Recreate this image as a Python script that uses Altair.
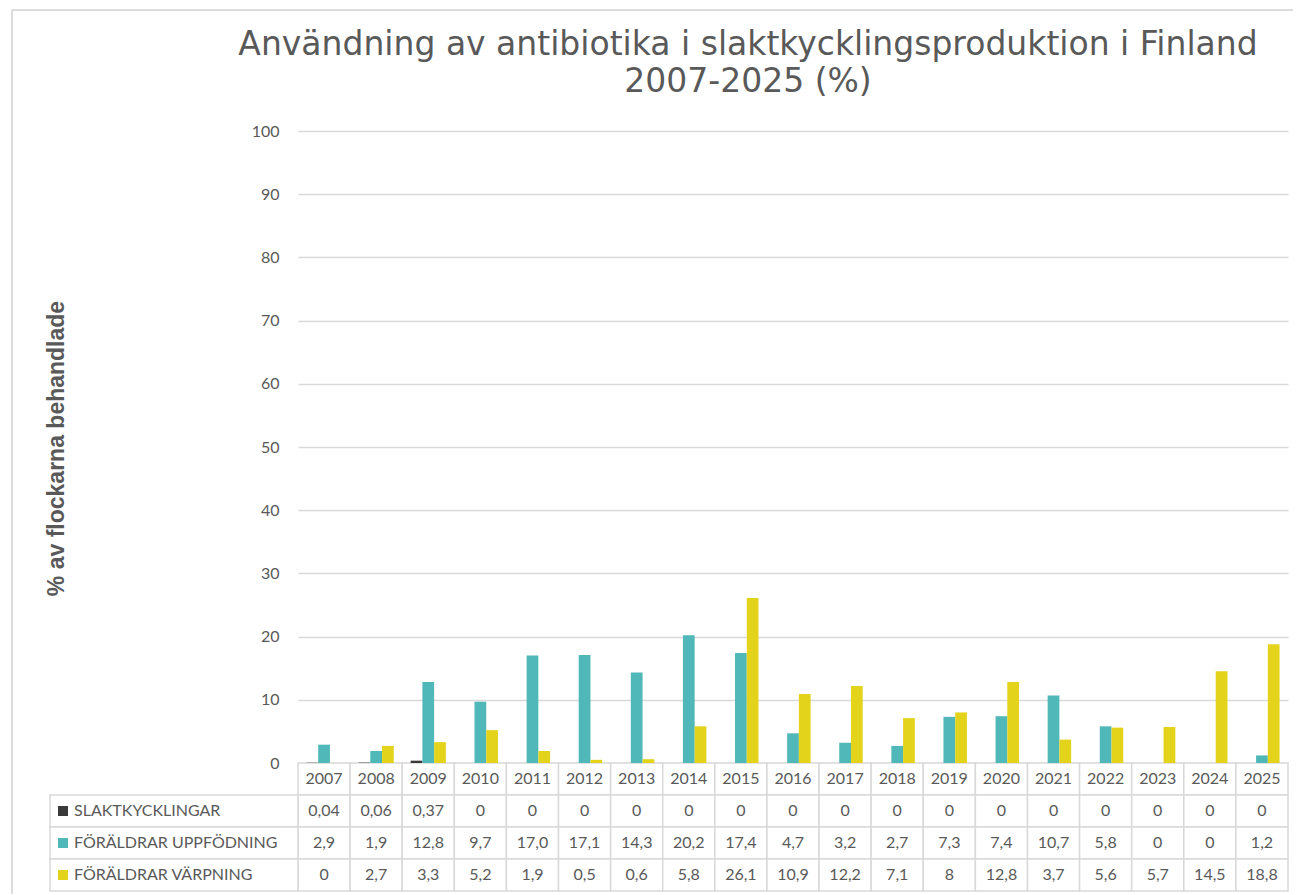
import altair as alt
import pandas as pd

# ---------------- data ----------------
years = ["2007", "2008", "2009", "2010", "2011", "2012", "2013", "2014", "2015", "2016",
         "2017", "2018", "2019", "2020", "2021", "2022", "2023", "2024", "2025"]
series = ["SLAKTKYCKLINGAR", "FÖRÄLDRAR UPPFÖDNING", "FÖRÄLDRAR VÄRPNING"]

slakt = [0.04, 0.06, 0.37, 0, 0, 0, 0, 0, 0, 0, 0, 0, 0, 0, 0, 0, 0, 0, 0]
uppfodning = [2.9, 1.9, 12.8, 9.7, 17.0, 17.1, 14.3, 20.2, 17.4, 4.7, 3.2, 2.7, 7.3, 7.4, 10.7, 5.8, 0, 0, 1.2]
varpning = [0, 2.7, 3.3, 5.2, 1.9, 0.5, 0.6, 5.8, 26.1, 10.9, 12.2, 7.1, 8, 12.8, 3.7, 5.6, 5.7, 14.5, 18.8]

slakt_txt = ["0,04", "0,06", "0,37", "0", "0", "0", "0", "0", "0", "0", "0", "0", "0", "0", "0", "0", "0", "0", "0"]
uppfodning_txt = ["2,9", "1,9", "12,8", "9,7", "17,0", "17,1", "14,3", "20,2", "17,4", "4,7", "3,2", "2,7",
                  "7,3", "7,4", "10,7", "5,8", "0", "0", "1,2"]
varpning_txt = ["0", "2,7", "3,3", "5,2", "1,9", "0,5", "0,6", "5,8", "26,1", "10,9", "12,2", "7,1",
                "8", "12,8", "3,7", "5,6", "5,7", "14,5", "18,8"]

colors = ["#3a3a3a", "#50b8b8", "#e4d31b"]
y_ticks = [0, 10, 20, 30, 40, 50, 60, 70, 80, 90, 100]

title_lines = ["Användning av antibiotika i slaktkycklingsproduktion i Finland", "2007-2025 (%)"]
y_title = "% av flockarna behandlade"

# ---------------- tables ----------------
header_key = "ÅR"
row_keys = [header_key] + series

bars_df = pd.DataFrame(
    [{"year": y, "series": s, "value": v}
     for s, vals in zip(series, [slakt, uppfodning, varpning])
     for y, v in zip(years, vals)]
)

cell_rows = []
for y in years:
    cell_rows.append({"year": y, "row": header_key, "label": y})
for s, txts in zip(series, [slakt_txt, uppfodning_txt, varpning_txt]):
    for y, t in zip(years, txts):
        cell_rows.append({"year": y, "row": s, "label": t})
cells_df = pd.DataFrame(cell_rows)

labels_df = pd.DataFrame({"row": series})
frame_df = pd.DataFrame({"k": [0]})

GREY = "#595959"
GRID = "#d9d9d9"

X = alt.X("year:O", sort=years,
          scale=alt.Scale(domain=years, paddingInner=0, paddingOuter=0), axis=None)
YROW = alt.Y("row:N", sort=row_keys,
             scale=alt.Scale(domain=row_keys, range=[632, 760], paddingInner=0, paddingOuter=0),
             axis=None)
COLOR = alt.Color("series:N", scale=alt.Scale(domain=series, range=colors), legend=None)

bars = alt.Chart(bars_df).mark_bar().encode(
    x=X,
    xOffset=alt.XOffset("series:N", sort=series,
                        scale=alt.Scale(domain=series, paddingInner=0, paddingOuter=0.72)),
    y=alt.Y("value:Q",
            scale=alt.Scale(domain=[0, 100], range=[632, 0], nice=False),
            axis=alt.Axis(values=y_ticks, grid=True, gridColor=GRID, gridWidth=1.5,
                          domain=False, ticks=False, labelPadding=19,
                          labelFont="Lato", labelFontSize=16, labelColor=GREY,
                          title=y_title, titleFont="Liberation Sans", titleFontSize=23,
                          titleFontWeight="bold", titleColor=GREY, titleAngle=-90,
                          titleX=-242, titleY=317, titleAlign="center",
                          titleBaseline="middle")),
    color=COLOR,
)

cells = alt.Chart(cells_df).mark_rect(fill="white", stroke=GRID, strokeWidth=1.5).encode(
    x=X, y=YROW
)

label_cells = alt.Chart(labels_df).mark_rect(fill="white", stroke=GRID, strokeWidth=1.5).encode(
    x=alt.value(-248), x2=alt.value(0), y=YROW
)

squares = alt.Chart(labels_df).mark_square(size=100, opacity=1).encode(
    x=alt.value(-235), y=YROW,
    color=alt.Color("row:N", scale=alt.Scale(domain=series, range=colors), legend=None),
)

label_text = alt.Chart(labels_df).mark_text(
    align="left", baseline="middle", font="Lato", fontSize=16, color=GREY
).encode(x=alt.value(-224), y=YROW, text="row:N")

cell_text = alt.Chart(cells_df).mark_text(
    align="center", baseline="middle", font="Lato", fontSize=16, color=GREY
).encode(x=X, y=YROW, text="label:N")

frame_v = alt.Chart(frame_df).mark_rule(color="#d0d0d0", strokeWidth=1.5).encode(
    x=alt.value(-286), y=alt.value(-121), y2=alt.value(900)
)
frame_h = alt.Chart(frame_df).mark_rule(color="#d0d0d0", strokeWidth=1.5).encode(
    x=alt.value(-286), x2=alt.value(1100), y=alt.value(-121)
)

chart = alt.layer(
    frame_v, frame_h, cells, label_cells, bars, squares, label_text, cell_text
).resolve_scale(
    y="independent", color="independent"
).properties(
    width=990, height=760,
    autosize=alt.AutoSizeParams(type="none"),
    padding={"left": 290, "top": 123, "right": 5, "bottom": 3},
    title=alt.TitleParams(text=title_lines, font="DejaVu Sans", fontSize=33, fontWeight="normal",
                          color=GREY, anchor="middle", dx=-45, dy=120, offset=30, lineHeight=37),
    background="white",
).configure_view(stroke=None)

chart.save("out.html", embed_options={"renderer": "svg", "actions": False})
